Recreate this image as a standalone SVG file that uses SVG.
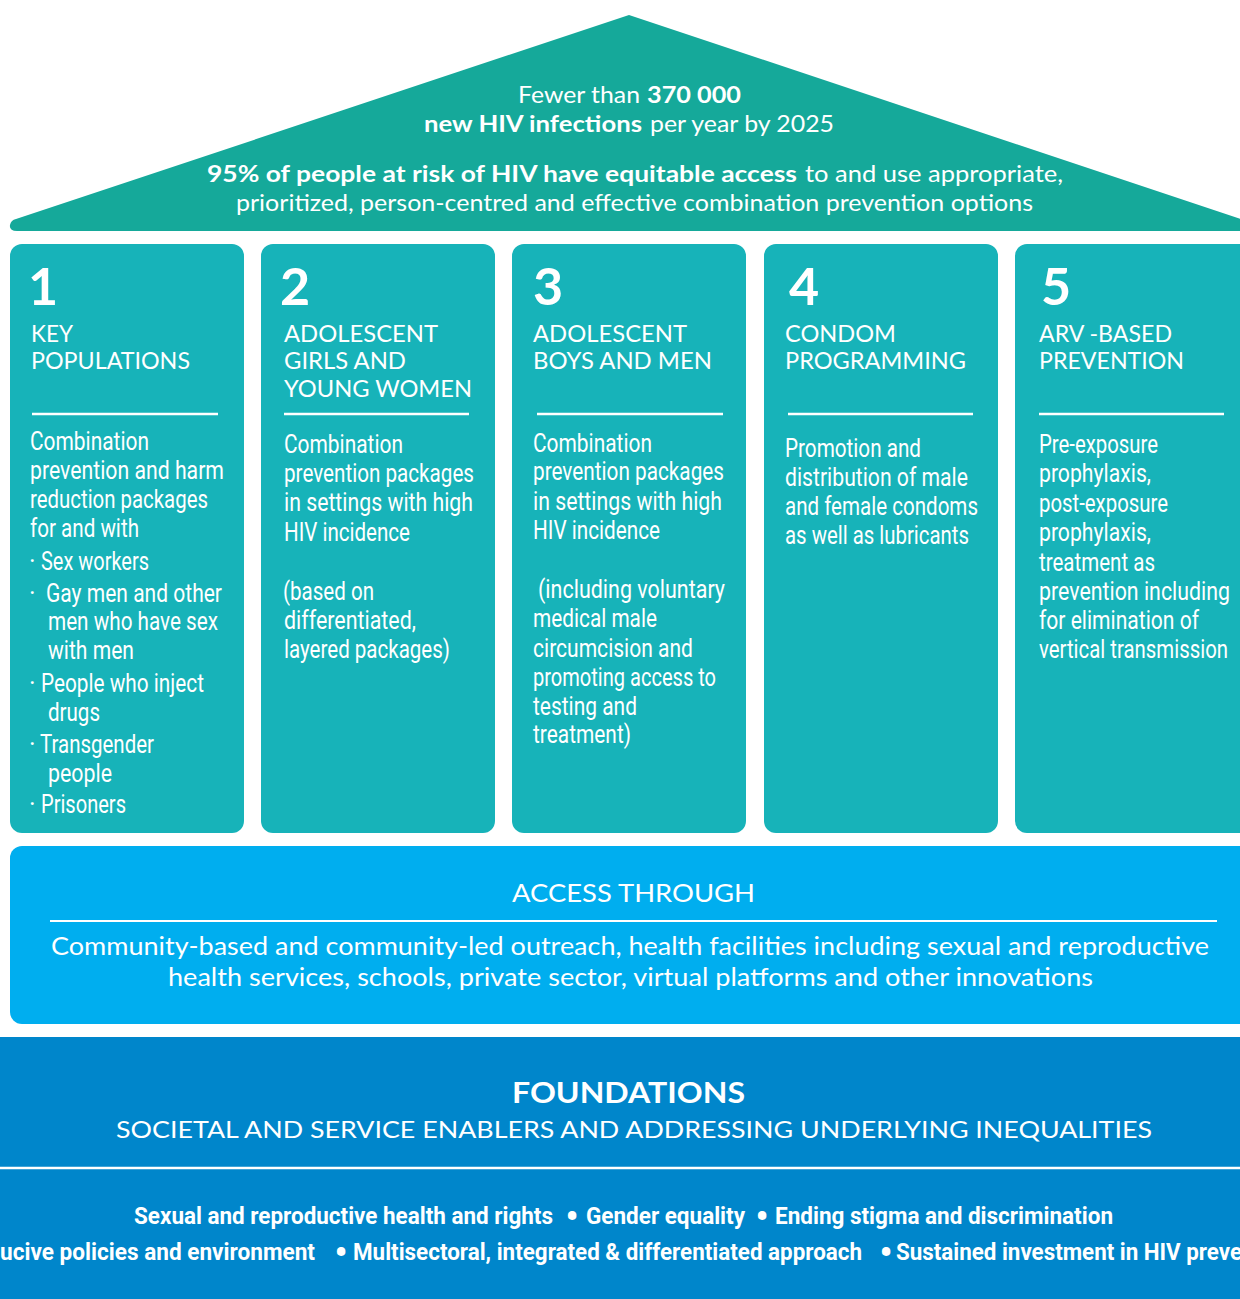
<svg xmlns="http://www.w3.org/2000/svg" width="1240" height="1299" viewBox="0 0 1240 1299">
<style>
text{fill:#fff}
.r{font-family:Lato,"Open Sans",sans-serif;font-size:23px}
.rb{font-family:Lato,"Open Sans",sans-serif;font-size:23px;font-weight:700}
.n{font-family:Lato,"Open Sans",sans-serif;font-size:52px;font-weight:700}
.h{font-family:Lato,"Open Sans",sans-serif;font-size:22.5px}
.b{font-family:Roboto,"Liberation Sans",sans-serif;font-size:25px}
.fb{font-family:Roboto,"Liberation Sans",sans-serif;font-size:24px;font-weight:700}
.bul{font-family:Roboto,"Liberation Sans",sans-serif;font-size:36px;font-weight:700;text-anchor:middle}
.a{font-family:Lato,"Open Sans",sans-serif;font-size:25px}
.pil{fill:#17b3b9}
.div{stroke:#fff;stroke-width:2.5}
</style>
<rect width="1240" height="1299" fill="#fff"/>
<g id="roof">
<path d="M629,15 L1262,226 V231 H17 Q9,231 10,225 Q11,220 16,219 Z" fill="#15a99a"/>
<text class="r" x="518" y="103" textLength="122" lengthAdjust="spacingAndGlyphs">Fewer than</text>
<text class="rb" x="647" y="103" textLength="94" lengthAdjust="spacingAndGlyphs">370 000</text>
<text class="rb" x="424" y="132" textLength="218" lengthAdjust="spacingAndGlyphs">new HIV infections</text>
<text class="r" x="650" y="132" textLength="184" lengthAdjust="spacingAndGlyphs">per year by 2025</text>
<text class="rb" x="207" y="182" textLength="590" lengthAdjust="spacingAndGlyphs">95% of people at risk of HIV have equitable access</text>
<text class="r" x="805" y="182" textLength="258" lengthAdjust="spacingAndGlyphs">to and use appropriate,</text>
<text class="r" x="236" y="211" textLength="797" lengthAdjust="spacingAndGlyphs">prioritized, person-centred and effective combination prevention options</text>
</g>
<g id="pillar1">
<rect class="pil" x="10" y="244" width="234" height="589" rx="12"/>
<text class="n" x="28" y="305">1</text>
<text class="h" x="31" y="342" textLength="42" lengthAdjust="spacingAndGlyphs">KEY</text>
<text class="h" x="31" y="369" textLength="159" lengthAdjust="spacingAndGlyphs">POPULATIONS</text>
<line class="div" x1="32" y1="414" x2="218" y2="414"/>
<text class="b" x="30" y="450" textLength="119" lengthAdjust="spacingAndGlyphs">Combination</text>
<text class="b" x="30" y="479" textLength="194" lengthAdjust="spacingAndGlyphs">prevention and harm</text>
<text class="b" x="30" y="508" textLength="178" lengthAdjust="spacingAndGlyphs">reduction packages</text>
<text class="b" x="30" y="537" textLength="109" lengthAdjust="spacingAndGlyphs">for and with</text>
<text class="b" x="29" y="570">·</text>
<text class="b" x="41" y="570" textLength="108" lengthAdjust="spacingAndGlyphs">Sex workers</text>
<text class="b" x="29" y="602">·</text>
<text class="b" x="46" y="602" textLength="176" lengthAdjust="spacingAndGlyphs">Gay men and other</text>
<text class="b" x="48" y="630" textLength="170" lengthAdjust="spacingAndGlyphs">men who have sex</text>
<text class="b" x="48" y="659" textLength="86" lengthAdjust="spacingAndGlyphs">with men</text>
<text class="b" x="29" y="692">·</text>
<text class="b" x="41" y="692" textLength="163" lengthAdjust="spacingAndGlyphs">People who inject</text>
<text class="b" x="48" y="721" textLength="52" lengthAdjust="spacingAndGlyphs">drugs</text>
<text class="b" x="29" y="753">·</text>
<text class="b" x="40" y="753" textLength="114" lengthAdjust="spacingAndGlyphs">Transgender</text>
<text class="b" x="48" y="782" textLength="64" lengthAdjust="spacingAndGlyphs">people</text>
<text class="b" x="29" y="813">·</text>
<text class="b" x="41" y="813" textLength="85" lengthAdjust="spacingAndGlyphs">Prisoners</text>
</g>
<g id="pillar2">
<rect class="pil" x="261" y="244" width="234" height="589" rx="12"/>
<text class="n" x="280" y="305">2</text>
<text class="h" x="284" y="342" textLength="154" lengthAdjust="spacingAndGlyphs">ADOLESCENT</text>
<text class="h" x="284" y="369" textLength="122" lengthAdjust="spacingAndGlyphs">GIRLS AND</text>
<text class="h" x="284" y="397" textLength="188" lengthAdjust="spacingAndGlyphs">YOUNG WOMEN</text>
<line class="div" x1="284" y1="414" x2="469" y2="414"/>
<text class="b" x="284" y="453" textLength="119" lengthAdjust="spacingAndGlyphs">Combination</text>
<text class="b" x="284" y="482" textLength="190" lengthAdjust="spacingAndGlyphs">prevention packages</text>
<text class="b" x="284" y="511" textLength="189" lengthAdjust="spacingAndGlyphs">in settings with high</text>
<text class="b" x="284" y="541" textLength="126" lengthAdjust="spacingAndGlyphs">HIV incidence</text>
<text class="b" x="283" y="600" textLength="91" lengthAdjust="spacingAndGlyphs">(based on</text>
<text class="b" x="284" y="629" textLength="132" lengthAdjust="spacingAndGlyphs">differentiated,</text>
<text class="b" x="284" y="658" textLength="166" lengthAdjust="spacingAndGlyphs">layered packages)</text>
</g>
<g id="pillar3">
<rect class="pil" x="512" y="244" width="234" height="589" rx="12"/>
<text class="n" x="533" y="305">3</text>
<text class="h" x="533" y="342" textLength="154" lengthAdjust="spacingAndGlyphs">ADOLESCENT</text>
<text class="h" x="533" y="369" textLength="179" lengthAdjust="spacingAndGlyphs">BOYS AND MEN</text>
<line class="div" x1="537" y1="414" x2="723" y2="414"/>
<text class="b" x="533" y="452" textLength="119" lengthAdjust="spacingAndGlyphs">Combination</text>
<text class="b" x="533" y="480" textLength="191" lengthAdjust="spacingAndGlyphs">prevention packages</text>
<text class="b" x="533" y="510" textLength="189" lengthAdjust="spacingAndGlyphs">in settings with high</text>
<text class="b" x="533" y="539" textLength="127" lengthAdjust="spacingAndGlyphs">HIV incidence</text>
<text class="b" x="538" y="598" textLength="187" lengthAdjust="spacingAndGlyphs">(including voluntary</text>
<text class="b" x="533" y="627" textLength="124" lengthAdjust="spacingAndGlyphs">medical male</text>
<text class="b" x="533" y="657" textLength="160" lengthAdjust="spacingAndGlyphs">circumcision  and</text>
<text class="b" x="533" y="686" textLength="183" lengthAdjust="spacingAndGlyphs">promoting access to</text>
<text class="b" x="533" y="715" textLength="104" lengthAdjust="spacingAndGlyphs">testing and</text>
<text class="b" x="533" y="743" textLength="98" lengthAdjust="spacingAndGlyphs">treatment)</text>
</g>
<g id="pillar4">
<rect class="pil" x="764" y="244" width="234" height="589" rx="12"/>
<text class="n" x="789" y="305">4</text>
<text class="h" x="785" y="342" textLength="111" lengthAdjust="spacingAndGlyphs">CONDOM</text>
<text class="h" x="785" y="369" textLength="181" lengthAdjust="spacingAndGlyphs">PROGRAMMING</text>
<line class="div" x1="788" y1="414" x2="973" y2="414"/>
<text class="b" x="785" y="457" textLength="136" lengthAdjust="spacingAndGlyphs">Promotion and</text>
<text class="b" x="785" y="486" textLength="183" lengthAdjust="spacingAndGlyphs">distribution of male</text>
<text class="b" x="785" y="515" textLength="193" lengthAdjust="spacingAndGlyphs">and female condoms</text>
<text class="b" x="785" y="544" textLength="184" lengthAdjust="spacingAndGlyphs">as well as lubricants</text>
</g>
<g id="pillar5">
<rect class="pil" x="1015" y="244" width="240" height="589" rx="12"/>
<text class="n" x="1041" y="305">5</text>
<text class="h" x="1039" y="342" textLength="133" lengthAdjust="spacingAndGlyphs">ARV -BASED</text>
<text class="h" x="1039" y="369" textLength="145" lengthAdjust="spacingAndGlyphs">PREVENTION</text>
<line class="div" x1="1039" y1="414" x2="1224" y2="414"/>
<text class="b" x="1039" y="453" textLength="119" lengthAdjust="spacingAndGlyphs">Pre-exposure</text>
<text class="b" x="1039" y="482" textLength="112" lengthAdjust="spacingAndGlyphs">prophylaxis,</text>
<text class="b" x="1039" y="512" textLength="129" lengthAdjust="spacingAndGlyphs">post-exposure</text>
<text class="b" x="1039" y="541" textLength="112" lengthAdjust="spacingAndGlyphs">prophylaxis,</text>
<text class="b" x="1039" y="571" textLength="116" lengthAdjust="spacingAndGlyphs">treatment as</text>
<text class="b" x="1039" y="600" textLength="191" lengthAdjust="spacingAndGlyphs">prevention including</text>
<text class="b" x="1039" y="629" textLength="160" lengthAdjust="spacingAndGlyphs">for elimination of</text>
<text class="b" x="1039" y="658" textLength="189" lengthAdjust="spacingAndGlyphs">vertical transmission</text>
</g>
<g id="access">
<rect x="10" y="846" width="1250" height="178" rx="12" fill="#00aeef"/>
<text class="a" x="512" y="902" textLength="243" lengthAdjust="spacingAndGlyphs">ACCESS THROUGH</text>
<line x1="50" y1="921" x2="1217" y2="921" stroke="#fff" stroke-width="2"/>
<text class="a" x="51" y="955" textLength="1158" lengthAdjust="spacingAndGlyphs">Community-based and community-led outreach, health facilities including sexual and reproductive</text>
<text class="a" x="168" y="986" textLength="925" lengthAdjust="spacingAndGlyphs">health services, schools, private sector, virtual platforms and other innovations</text>
</g>
<g id="foundations">
<rect x="0" y="1037" width="1240" height="262" fill="#0086cb"/>
<line x1="0" y1="1168" x2="1240" y2="1168" stroke="#fff" stroke-width="2.5"/>
<text class="rb" style="font-size:28px" x="512" y="1103" textLength="233" lengthAdjust="spacingAndGlyphs">FOUNDATIONS</text>
<text class="h" x="116" y="1138" textLength="1036" lengthAdjust="spacingAndGlyphs">SOCIETAL AND SERVICE ENABLERS AND ADDRESSING UNDERLYING INEQUALITIES</text>
<text class="fb" x="134" y="1224" textLength="419" lengthAdjust="spacingAndGlyphs">Sexual and reproductive health and rights</text>
<text class="bul" x="572" y="1229">•</text>
<text class="fb" x="586" y="1224" textLength="159" lengthAdjust="spacingAndGlyphs">Gender equality</text>
<text class="bul" x="762" y="1229">•</text>
<text class="fb" x="775" y="1224" textLength="338" lengthAdjust="spacingAndGlyphs">Ending stigma and discrimination</text>
<text class="fb" x="0" y="1260" textLength="315" lengthAdjust="spacingAndGlyphs">ucive policies and environment</text>
<text class="bul" x="341" y="1265">•</text>
<text class="fb" x="353" y="1260" textLength="509" lengthAdjust="spacingAndGlyphs">Multisectoral, integrated &amp; differentiated approach</text>
<text class="bul" x="886" y="1265">•</text>
<text class="fb" x="896" y="1260" textLength="346" lengthAdjust="spacingAndGlyphs">Sustained investment in HIV preve</text>
</g>
</svg>
